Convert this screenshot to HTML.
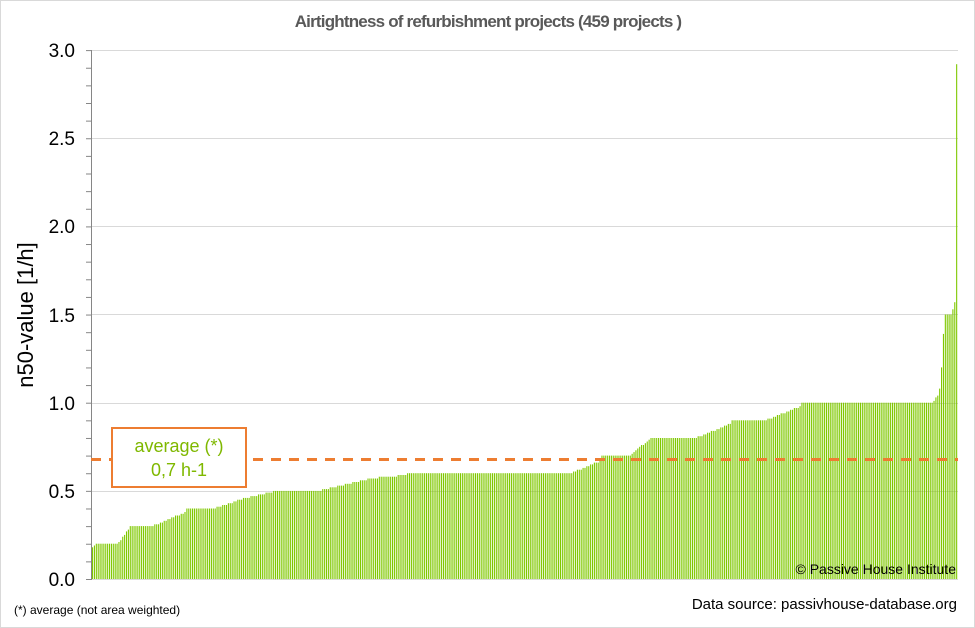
<!DOCTYPE html>
<html><head><style>
body{margin:0;background:#fff;}
svg{display:block;font-family:"Liberation Sans",sans-serif;}
</style></head><body>
<svg id="s" width="975" height="628" xmlns="http://www.w3.org/2000/svg">
<rect x="0.5" y="0.5" width="974" height="627" fill="#fff" stroke="#d9d9d9"/>
<text x="488" y="27" text-anchor="middle" font-size="17" font-weight="bold" fill="#595959" letter-spacing="-0.8">Airtightness of refurbishment projects (459 projects )</text>
<g stroke="#d9d9d9" stroke-width="1">
<line x1="91" y1="50.5" x2="958" y2="50.5"/>
<line x1="91" y1="138.5" x2="958" y2="138.5"/>
<line x1="91" y1="226.5" x2="958" y2="226.5"/>
<line x1="91" y1="314.5" x2="958" y2="314.5"/>
<line x1="91" y1="403.5" x2="958" y2="403.5"/>
<line x1="91" y1="491.5" x2="958" y2="491.5"/>
<line x1="91" y1="579.5" x2="958" y2="579.5"/>
</g>
<g id="bars" fill="#7fc800"></g>
<g font-size="19" fill="#000" text-anchor="end">
<text x="75" y="57">3.0</text><text x="75" y="145">2.5</text><text x="75" y="233">2.0</text>
<text x="75" y="322">1.5</text><text x="75" y="410">1.0</text><text x="75" y="498">0.5</text><text x="75" y="586">0.0</text>
</g>
<line x1="91.5" y1="50" x2="91.5" y2="580" stroke="#868686"/>
<g id="ticks" stroke="#868686"></g>
<text transform="translate(33,315) rotate(-90)" text-anchor="middle" font-size="22" fill="#000">n50-value [1/h]</text>
<line x1="91" y1="459.5" x2="958" y2="459.5" stroke="#ed7d31" stroke-width="3" stroke-dasharray="10,8"/>
<rect x="112" y="428" width="134" height="59" fill="#fff" stroke="#ed7d31" stroke-width="2"/>
<text x="179" y="452" text-anchor="middle" font-size="18" fill="#7fb800">average (*)</text>
<text x="179" y="476" text-anchor="middle" font-size="18" fill="#7fb800">0,7 h-1</text>
<text x="956" y="574" text-anchor="end" font-size="14" fill="#000">© Passive House Institute</text>
<text x="14" y="614" font-size="12" fill="#000">(*) average (not area weighted)</text>
<text x="957" y="609" text-anchor="end" font-size="15" fill="#000">Data source: passivhouse-database.org</text>
</svg>
<script>
var ns="http://www.w3.org/2000/svg";
var t=document.getElementById("ticks");
for(var i=0;i<=30;i++){var y=579.5-i*176.3/10;var l=document.createElementNS(ns,"line");l.setAttribute("x1",86);l.setAttribute("x2",91);l.setAttribute("y1",y);l.setAttribute("y2",y);t.appendChild(l);}
var k=[[91,0.18],[96,0.2],[117,0.2],[128,0.28],[130,0.3],[152,0.3],[185,0.38],[186,0.4],[213,0.4],[245,0.46],[275,0.5],[318,0.5],[370,0.57],[405,0.59],[406,0.6],[570,0.6],[600,0.67],[601,0.7],[630,0.7],[650,0.8],[695,0.8],[730,0.88],[731,0.9],[765,0.9],[800,0.98],[801,1.0],[932,1.0],[938,1.05],[940,1.1],[942,1.3],[944,1.5],[951,1.5],[953,1.55],[956,1.6],[957,1.67],[958,2.92]];
function f(x){for(var j=0;j<k.length-1;j++){if(x<=k[j+1][0]){var a=k[j],b=k[j+1];return a[1]+(b[1]-a[1])*(x-a[0])/(b[0]-a[0]);}}return 2.92;}
var g=document.getElementById("bars");
for(var i=0;i<459;i++){var x=92+i*866/459;var v=Math.round(f(x)*100)/100;if(i==458)v=2.92;
var h=v*176.3;var r=document.createElementNS(ns,"rect");r.setAttribute("x",x.toFixed(2));r.setAttribute("width","1.1");r.setAttribute("y",(579-h).toFixed(1));r.setAttribute("height",h.toFixed(1));g.appendChild(r);}
</script>
</body></html>
